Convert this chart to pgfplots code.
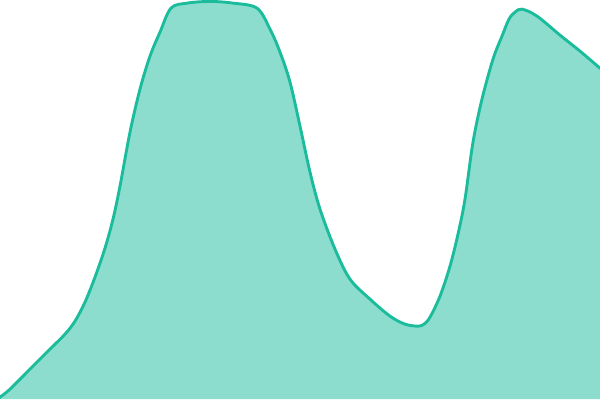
\documentclass[border=0pt]{standalone}
\usepackage{pgfplots}
\pgfplotsset{compat=1.18}
\definecolor{teal1}{HTML}{1ABC9C}
\pgfplotstableread{
x y
-3 0
0 2
10 10
30 30
50 50
65 65
75 78
85 97
95 122
105 151
113 180
120 213
130 267
140 310
150 343
160 367
171 391
187 396
210 397.7
233 396
257 391
270 370
280 347
290 317
300 273
310 227
320 190
335 150
350 120
370 100
390 83
405 75
418 73
424 75
430 82
440 103
450 133
458 165
465 200
473 257
482 300
493 340
502 363
509 380
515 387
522 390
537 383
560 364
580 348
600 331
603 329
}\curve
\begin{document}
\begin{tikzpicture}
\begin{axis}[
  x=1bp, y=1bp,
  xmin=0, xmax=600, ymin=0, ymax=400,
  hide axis,
  clip=true,
]
\addplot[draw=none, fill=teal1, fill opacity=0.5, smooth, tension=0.55]
  table {\curve} \closedcycle;
\addplot[draw=teal1, line width=2.9bp, smooth, tension=0.55]
  table {\curve};
\end{axis}
\end{tikzpicture}
\end{document}
